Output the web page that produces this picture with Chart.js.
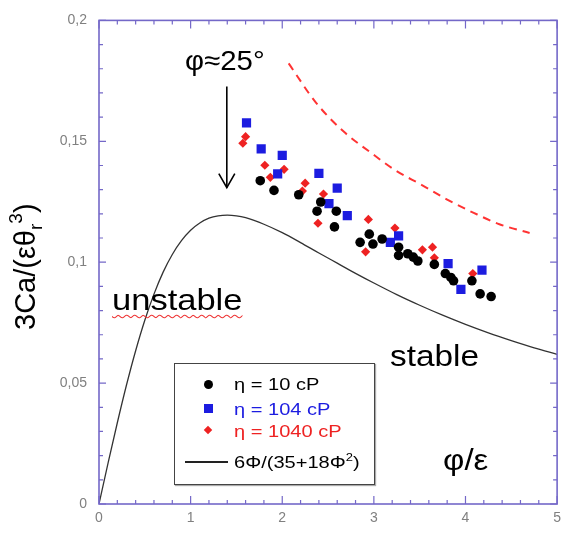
<!DOCTYPE html>
<html><head><meta charset="utf-8">
<script src="https://cdn.jsdelivr.net/npm/chart.js@4/dist/chart.umd.min.js"></script>
<style>
html,body{margin:0;padding:0;background:#fff;}
#wrap{position:relative;width:567px;height:537px;overflow:hidden;font-family:"Liberation Sans",Arial,sans-serif;}
canvas{position:absolute;left:0;top:0;}
.t{position:absolute;white-space:nowrap;color:#000;line-height:1;transform-origin:0 0;}
#legend{position:absolute;left:174px;top:363px;width:199px;height:120px;border:1.5px solid #444;background:#fff;box-shadow:1px 1px 1px #aaa;}
.sym{position:absolute;}
.lt{position:absolute;white-space:nowrap;line-height:1;font-size:17px;transform-origin:0 0;transform:scaleX(1.18);}
</style></head><body>
<div id="wrap">
<canvas id="c" width="567" height="537"></canvas>
<div class="t" style="left:185px;top:47px;font-size:28px;transform:scaleX(1.05);">φ≈25°</div>
<div class="t" style="left:112px;top:286px;font-size:29px;transform:scaleX(1.19);text-decoration:underline wavy #e33;text-decoration-thickness:1px;text-underline-offset:4px;">unstable</div>
<div class="t" style="left:390px;top:342px;font-size:29px;transform:scaleX(1.15);">stable</div>
<div class="t" style="left:443px;top:445px;font-size:30px;transform:scaleX(1.1);">φ/ε</div>
<div class="t" style="left:11px;top:330px;font-size:29px;transform:rotate(-90deg);">3Ca/(εθ<span style="font-size:19px;position:relative;top:7px;">r</span><span style="font-size:19px;position:relative;top:-13px;">3</span>)</div>
<div id="legend"></div>
</div>
<script>
// ---- data ----
const theoryX = [0,0.1,0.2,0.3,0.4,0.5,0.6,0.7,0.8,0.9,1.0,1.1,1.2,1.3,1.4,1.5,1.6,1.8,2.0,2.2,2.4,2.6,2.8,3.0,3.25,3.5,3.75,4.0,4.25,4.5,4.75,5.0];
const theoryY = [0,0.0171,0.0336,0.0492,0.0634,0.0760,0.0868,0.0959,0.1032,0.1089,0.1132,0.1162,0.1182,0.1192,0.1195,0.1192,0.1184,0.1157,0.1122,0.1081,0.1038,0.0996,0.0954,0.0914,0.0866,0.0822,0.0781,0.0743,0.0708,0.0676,0.0646,0.0619];
const dashX = [2.07,2.37,2.68,2.96,3.23,3.52,3.80,4.09,4.37,4.70];
const dashY = [0.1822,0.1659,0.1537,0.1455,0.1381,0.1320,0.1259,0.1204,0.1157,0.1121];
const black10X = [1.76,1.91,2.18,2.38,2.42,2.57,2.59,2.85,2.95,2.99,3.09,3.27,3.27,3.37,3.43,3.48,3.66,3.78,3.84,3.87,4.07,4.16,4.28];
const black10Y = [0.1337,0.1297,0.1279,0.1211,0.1249,0.1146,0.1211,0.1082,0.1116,0.1075,0.1096,0.1062,0.1028,0.1035,0.1021,0.1005,0.0991,0.0953,0.0937,0.0923,0.0923,0.0869,0.0858];
const blue104X = [1.61,1.77,1.95,2.00,2.40,2.51,2.60,2.71,3.18,3.27,3.81,3.95,4.18];
const blue104Y = [0.1576,0.1469,0.1365,0.1442,0.1367,0.1242,0.1306,0.1193,0.1082,0.1109,0.0994,0.0888,0.0967];
const red1040X = [1.57,1.60,1.81,1.87,2.02,2.22,2.25,2.39,2.45,2.91,2.94,3.23,3.53,3.64,3.66,4.08];
const red1040Y = [0.1492,0.1519,0.1401,0.1351,0.1384,0.1294,0.1327,0.1161,0.1282,0.1043,0.1177,0.1141,0.1051,0.1062,0.1018,0.0953];
const legendLabels = ['η = 10 cP','η = 104 cP','η = 1040 cP','6Φ/(35+18Φ<sup>2</sup>)'];
const xTickLabels = ['0','1','2','3','4','5'];
const yTickLabels = ['0','0,05','0,1','0,15','0,2'];

const COL_BLACK='#000000', COL_BLUE='#1c1ce0', COL_RED='#ee2222', AXIS='#7468c8';
const pts = (xs, ys) => xs.map((x,i)=>({x, y: ys[i]}));

// legend (HTML)
(function(){
  const lg = document.getElementById('legend');
  const rows = [
    {y:20, sym:'<div class="sym" style="left:29px;top:16px;width:9px;height:9px;border-radius:50%;background:'+COL_BLACK+'"></div>', c:COL_BLACK},
    {y:45, sym:'<div class="sym" style="left:29px;top:40px;width:9px;height:9px;background:'+COL_BLUE+'"></div>', c:COL_BLUE},
    {y:67, sym:'<div class="sym" style="left:30px;top:63px;width:6px;height:6px;transform:rotate(45deg);background:'+COL_RED+'"></div>', c:COL_RED},
    {y:98, sym:'<div class="sym" style="left:10px;top:97px;width:43px;height:1.5px;background:#222"></div>', c:'#000'}
  ];
  let h='';
  rows.forEach((r,i)=>{
    h += r.sym;
    h += '<div class="lt" style="left:59px;top:'+(r.y-8.5)+'px;color:'+r.c+'">'+legendLabels[i]+'</div>';
  });
  lg.innerHTML = h;
  lg.querySelectorAll('sup').forEach(s=>{s.style.fontSize='11px';s.style.verticalAlign='7px';s.style.lineHeight='0';});
})();

const frame = {
  id:'frame',
  afterDraw(chart){
    const {ctx, chartArea:a, scales:{x,y}} = chart;
    ctx.save();
    ctx.strokeStyle = AXIS; ctx.lineWidth = 1.6;
    ctx.strokeRect(a.left, a.top, a.right-a.left, a.bottom-a.top);
    ctx.lineWidth = 1.2;
    ctx.beginPath();
    x.ticks.forEach(t=>{
      const p = x.getPixelForValue(t.value);
      const major = Math.abs(t.value - Math.round(t.value)) < 1e-6;
      const L = major ? 8 : 4;
      ctx.moveTo(p, a.bottom); ctx.lineTo(p, a.bottom-L);
      ctx.moveTo(p, a.top); ctx.lineTo(p, a.top+L);
    });
    y.ticks.forEach(t=>{
      const p = y.getPixelForValue(t.value);
      const major = Math.abs(t.value*20 - Math.round(t.value*20)) < 1e-6;
      const L = major ? 7 : 4;
      ctx.moveTo(a.left, p); ctx.lineTo(a.left+L, p);
      ctx.moveTo(a.right, p); ctx.lineTo(a.right-L, p);
    });
    ctx.stroke();
    // arrow annotation
    const ax = x.getPixelForValue(1.395), y1 = y.getPixelForValue(0.1727), y2 = y.getPixelForValue(0.1308);
    ctx.strokeStyle = '#000'; ctx.lineWidth = 1.6;
    ctx.beginPath(); ctx.moveTo(ax, y1); ctx.lineTo(ax, y2); ctx.stroke();
    ctx.beginPath(); ctx.moveTo(ax-8, y2-14); ctx.lineTo(ax, y2); ctx.lineTo(ax+8, y2-14); ctx.stroke();
    ctx.restore();
  }
};

new Chart(document.getElementById('c'), {
  type:'scatter',
  data:{datasets:[
    {label:'η = 10 cP', data:pts(black10X,black10Y), pointStyle:'circle', pointRadius:4.8, backgroundColor:COL_BLACK, borderWidth:0},
    {label:'η = 104 cP', data:pts(blue104X,blue104Y), pointStyle:'rect', pointRadius:6.5, backgroundColor:COL_BLUE, borderWidth:0},
    {label:'η = 1040 cP', data:pts(red1040X,red1040Y), pointStyle:'rectRot', pointRadius:4.6, backgroundColor:COL_RED, borderWidth:0},
    {type:'line', label:'6Φ/(35+18Φ²)', data:pts(theoryX,theoryY), borderColor:'#333', borderWidth:1.3, pointRadius:0, cubicInterpolationMode:'monotone', fill:false},
    {type:'line', label:'limit', data:pts(dashX,dashY), borderColor:'#ff3333', borderWidth:2, borderDash:[8,6], pointRadius:0, cubicInterpolationMode:'monotone', fill:false}
  ]},
  options:{
    responsive:false, animation:false,
    layout:{padding:{left:0, top:13, right:2, bottom:0}},
    plugins:{legend:{display:false}, tooltip:{enabled:false}},
    scales:{
      x:{type:'linear', min:0, max:5,
        ticks:{stepSize:0.2, autoSkip:false, maxRotation:0, padding:6, color:'#808080', font:{family:'Liberation Sans', size:14},
          callback:(v)=>{ const r=Math.round(v); return Math.abs(v-r)<1e-6 ? xTickLabels[r] : ''; }},
        grid:{display:false, drawTicks:false}, border:{display:false},
        afterFit:(s)=>{ s.height = 33; }},
      y:{type:'linear', min:0, max:0.2,
        ticks:{stepSize:0.01, autoSkip:false, padding:12, color:'#808080', font:{family:'Liberation Sans', size:14},
          callback:(v)=>{ const r=Math.round(v*20); return Math.abs(v*20-r)<1e-6 ? yTickLabels[r] : ''; }},
        grid:{display:false, drawTicks:false}, border:{display:false},
        afterFit:(s)=>{ s.width = 99; }}
    }
  },
  plugins:[frame]
});
</script>
</body></html>
